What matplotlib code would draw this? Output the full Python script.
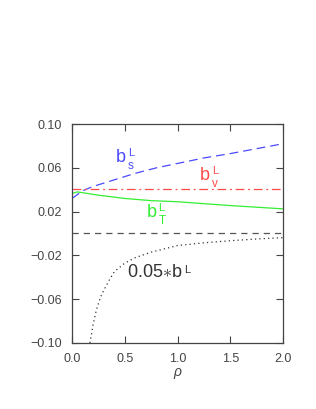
import matplotlib
matplotlib.use("Agg")
import matplotlib.pyplot as plt

plt.rcParams['font.family'] = ['Liberation Sans', 'DejaVu Sans']
plt.rcParams['mathtext.fontset'] = 'custom'
plt.rcParams['mathtext.rm'] = 'Liberation Sans'
plt.rcParams['mathtext.it'] = 'Liberation Sans:italic'

# b_s^L (blue dashed)
rho_s = [0.0, 0.1, 0.2, 0.4, 0.6, 0.8, 1.0, 1.25, 1.5, 1.75, 2.0]
b_s = [0.032, 0.039, 0.043, 0.049, 0.055, 0.060, 0.064, 0.069, 0.073, 0.0775, 0.082]

# b_v^L (red dash-dot)
rho_v = [0.0, 2.0]
b_v = [0.0403, 0.0403]

# b_T^L (green solid)
rho_t = [0.0, 0.05, 0.25, 0.5, 0.75, 1.0, 1.5, 2.0]
b_t = [0.0365, 0.038, 0.035, 0.032, 0.030, 0.029, 0.0255, 0.0225]

# zero line
rho_z = [0.0, 2.0]
b_z = [0.0, 0.0]

# 0.05*b^L (black dotted)
rho_l = [0.17, 0.2, 0.23, 0.27, 0.3, 0.35, 0.4, 0.5, 0.6, 0.75, 1.0, 1.25, 1.5, 1.75, 2.0]
b_l = [-0.100, -0.083, -0.070, -0.058, -0.052, -0.043, -0.035, -0.027,
       -0.022, -0.017, -0.011, -0.0085, -0.0066, -0.005, -0.0038]

BLUE = '#4a4aff'
RED = '#ff4a4a'
GREEN = '#33ee33'
DARK = '#444444'

fig = plt.figure(figsize=(3.16, 4.09), dpi=100)
ax = fig.add_axes([0.228, 0.1614, 0.668, 0.5354])

ax.plot(rho_s, b_s, color=BLUE, lw=0.9, dashes=(7, 4))
ax.plot(rho_v, b_v, color=RED, lw=0.9, dashes=(7, 3, 1.5, 3))
ax.plot(rho_t, b_t, color=GREEN, lw=0.9)
ax.plot(rho_z, b_z, color='#555555', lw=0.9, dashes=(5, 4))
ax.plot(rho_l, b_l, color='#333333', lw=0.9, dashes=(1, 2.5))


def label(x, y, sub, color):
    """b with superscript L stacked over a subscript"""
    ax.text(x, y, 'b', color=color, fontsize=13, va='baseline')
    ax.annotate('L', xy=(x, y), xytext=(8.5, 4.5), textcoords='offset points',
                color=color, fontsize=8, va='baseline')
    ax.annotate(sub, xy=(x, y), xytext=(8.5, -5), textcoords='offset points',
                color=color, fontsize=8.5, va='baseline')


label(0.417, 0.0653, 's', BLUE)
label(1.213, 0.0489, 'v', RED)
label(0.708, 0.0151, 'T', GREEN)

t = ax.text(0.521, -0.0394, r'0.05$\ast$b', color='#333333', fontsize=13, va='baseline')
ax.annotate('L', xy=(1, 1), xycoords=t, xytext=(1.5, -1), textcoords='offset points',
            color='#333333', fontsize=8, va='top')

ax.set_xlim(0, 2)
ax.set_ylim(-0.10, 0.10)
ax.set_xticks([0.0, 0.5, 1.0, 1.5, 2.0])
ax.set_xticklabels(['0.0', '0.5', '1.0', '1.5', '2.0'])
ax.set_yticks([-0.10, -0.06, -0.02, 0.02, 0.06, 0.10])
ax.set_yticklabels(['\u22120.10', '\u22120.06', '\u22120.02', '0.02', '0.06', '0.10'])
ax.tick_params(direction='in', length=5, width=0.8, labelsize=9, pad=7,
               top=True, right=True, colors=DARK, labelcolor=DARK)
for sp in ax.spines.values():
    sp.set_color(DARK)
    sp.set_linewidth(0.9)

ax.set_xlabel(r'$\it{\rho}$', fontsize=10, color=DARK, labelpad=1)

fig.savefig('out.png', dpi=100)
